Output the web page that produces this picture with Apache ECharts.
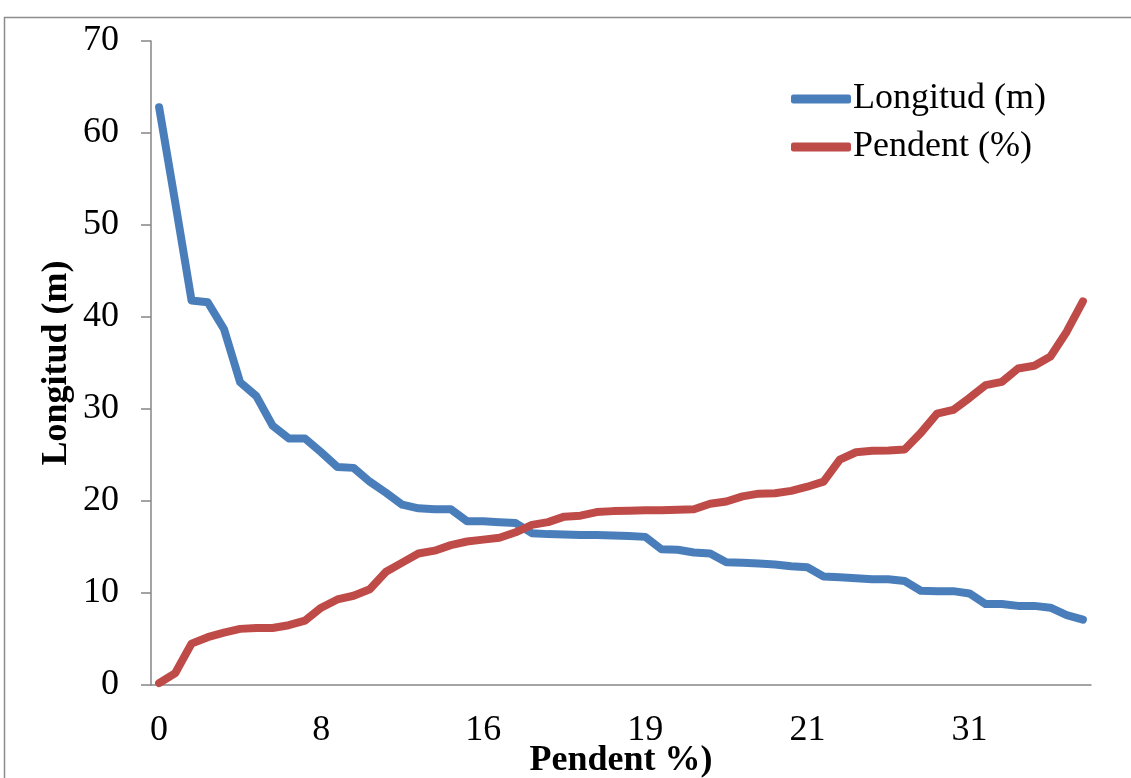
<!DOCTYPE html>
<html>
<head>
<meta charset="utf-8">
<script src="https://cdn.jsdelivr.net/npm/echarts@6/dist/echarts.min.js"></script>
<style>
html,body{margin:0;padding:0;background:#fff;}
#chart{width:1131px;height:778px;}
</style>
</head>
<body>
<div id="chart"></div>
<script>
// categorias eix X (pendent %)
var categories = ['0','1','2','3','4','5','5','6','6','7','8','8','9','10','11','12','13','14','15','15',
    '16','16','17','17','17','18','18','18','19','19','19','19','19','20','20','20','20','20','21','21',
    '21','22','24','25','25','26','27','28','29','30','31','32','33','34','35','36','38','42'];
// longitud (m)
var longitud = [62.8,52.4,41.8,41.6,38.7,32.9,31.4,28.2,26.8,26.8,25.3,23.7,23.6,22.1,20.9,19.6,19.2,19.1,19.1,17.8,
    17.8,17.7,17.6,16.5,16.4,16.35,16.3,16.3,16.25,16.2,16.1,14.75,14.7,14.4,14.3,13.35,13.3,13.2,13.1,12.9,
    12.8,11.8,11.7,11.6,11.5,11.5,11.3,10.25,10.2,10.2,9.95,8.8,8.8,8.6,8.6,8.4,7.6,7.1];
// pendent (%)
var pendent = [0.2,1.3,4.5,5.2,5.7,6.1,6.2,6.2,6.5,7.0,8.4,9.3,9.7,10.4,12.3,13.3,14.3,14.6,15.2,15.6,
    15.8,16.0,16.6,17.4,17.7,18.3,18.4,18.8,18.9,18.95,19.0,19.0,19.05,19.1,19.7,19.95,20.5,20.8,20.85,21.1,
    21.55,22.1,24.5,25.3,25.45,25.5,25.6,27.4,29.5,29.9,31.2,32.6,32.95,34.4,34.7,35.7,38.4,41.7];

var font = '"Liberation Serif", "Times New Roman", serif';
var axisGray = '#868686';

var myChart = echarts.init(document.getElementById('chart'));
var option = {
    animation: false,
    textStyle: {fontFamily: font, color: '#000'},
    graphic: [{
        type: 'rect',
        shape: {x: 4.5, y: 17.5, width: 1200, height: 900},
        style: {fill: null, stroke: '#8c8c8c', lineWidth: 1.5},
        silent: true
    }],
    grid: {left: 151, right: 40, top: 41, bottom: 93, containLabel: false, outerBoundsMode: 'none'},
    legend: {
        orient: 'vertical',
        left: 786,
        top: 76,
        itemWidth: 60,
        itemHeight: 9,
        itemGap: 12,
        icon: 'roundRect',
        textStyle: {fontFamily: font, fontSize: 36, color: '#000', padding: [0, 0, 0, -3]},
        data: ['Longitud (m)', 'Pendent (%)']
    },
    xAxis: {
        type: 'category',
        data: categories,
        boundaryGap: true,
        name: 'Pendent %)',
        nameLocation: 'middle',
        nameGap: 58,
        nameMoveOverlap: false,
        nameTextStyle: {fontFamily: font, fontSize: 36, fontWeight: 'bold', color: '#000'},
        axisLine: {lineStyle: {color: axisGray, width: 1.5}},
        axisTick: {interval: 0, length: 10, lineStyle: {color: axisGray, width: 1.5}},
        axisLabel: {interval: 9, margin: 28, fontFamily: font, fontSize: 36, color: '#000'},
        splitLine: {show: false}
    },
    yAxis: {
        type: 'value',
        min: 0,
        max: 70,
        interval: 10,
        name: 'Longitud (m)',
        nameLocation: 'middle',
        nameGap: 76,
        nameMoveOverlap: false,
        nameTextStyle: {fontFamily: font, fontSize: 36, fontWeight: 'bold', color: '#000'},
        axisLine: {show: true, lineStyle: {color: axisGray, width: 1.5}},
        axisTick: {show: true, length: 10, lineStyle: {color: axisGray, width: 1.5}},
        axisLabel: {margin: 32, fontFamily: font, fontSize: 36, color: '#000'},
        splitLine: {show: false}
    },
    series: [
        {
            name: 'Longitud (m)',
            type: 'line',
            data: longitud,
            showSymbol: false,
            color: '#4A7EBB',
            lineStyle: {width: 8, color: '#4A7EBB', cap: 'round', join: 'round'}
        },
        {
            name: 'Pendent (%)',
            type: 'line',
            data: pendent,
            showSymbol: false,
            color: '#BE4B48',
            lineStyle: {width: 8, color: '#BE4B48', cap: 'round', join: 'round'}
        }
    ]
};
myChart.setOption(option);
</script>
</body>
</html>
